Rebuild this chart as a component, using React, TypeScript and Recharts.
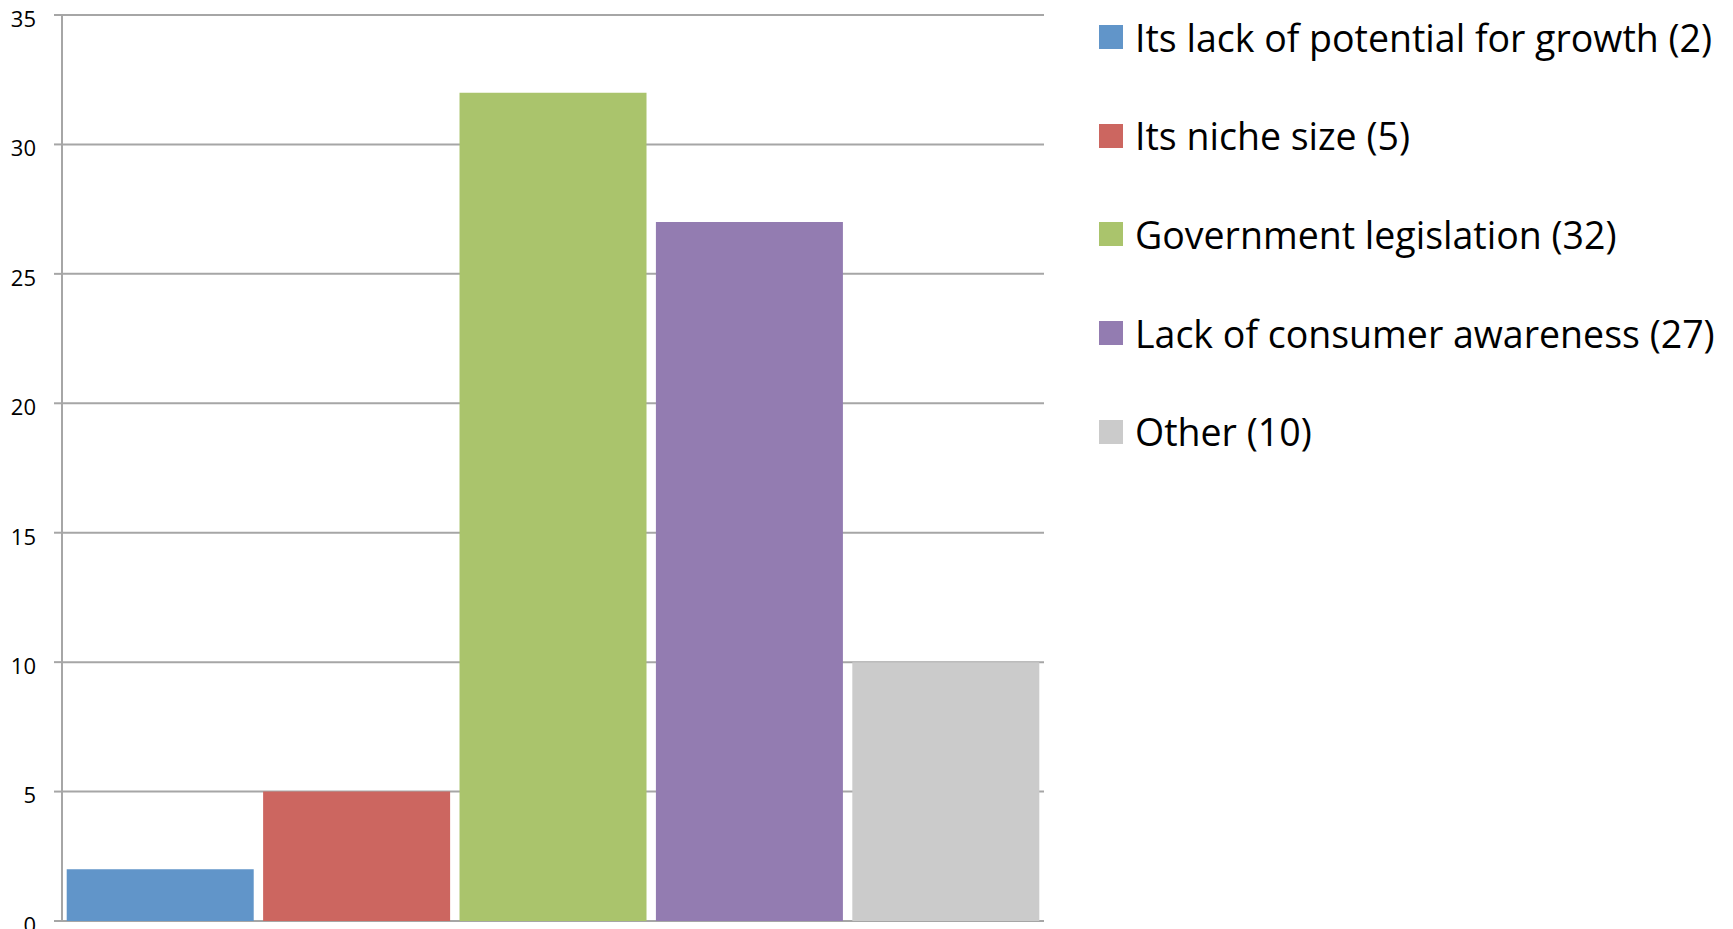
import React from 'react';
import { BarChart, Bar, Cell, XAxis, YAxis, CartesianGrid } from 'recharts';

const categories = [
  'Its lack of potential for growth',
  'Its niche size',
  'Government legislation',
  'Lack of consumer awareness',
  'Other',
];
const counts = [2, 5, 32, 27, 10];
const barColors = ['#6195C9', '#CC6660', '#AAC46C', '#937CB1', '#CBCBCB'];
const yTicks = [0, 5, 10, 15, 20, 25, 30, 35];

const data = categories.map((name, i) => ({ name, value: counts[i] }));

const FONT = '"Open Sans", Lato, sans-serif';
const GRID = '#A6A6A6';

// legend drawn beside the chart, one row per category
const LegendBox = () => (
  <div style={{ position: 'absolute', left: 1099, top: -12, fontFamily: FONT }}>
    {categories.map((name, i) => (
      <div key={name} style={{ display: 'flex', alignItems: 'center', height: 98.6 }}>
        <span style={{ width: 24, height: 24, background: barColors[i], display: 'inline-block', marginRight: 12, flexShrink: 0 }} />
        <span style={{ fontSize: 37.5, color: '#000', whiteSpace: 'nowrap' }}>
          {name} ({counts[i]})
        </span>
      </div>
    ))}
  </div>
);

export default function App() {
  return (
    <div style={{ position: 'absolute', left: 0, top: 0, width: 1733, height: 929, background: '#fff', overflow: 'hidden' }}>
      <BarChart
        width={1733}
        height={929}
        data={data}
        margin={{ top: 15, right: 689, bottom: 8, left: 0 }}
        barCategoryGap="2.4%"
      >
        <CartesianGrid vertical={false} stroke={GRID} strokeWidth={2} />
        <XAxis dataKey="name" hide />
        <YAxis
          width={62}
          domain={[0, 35]}
          ticks={yTicks}
          interval={0}
          axisLine={{ stroke: GRID, strokeWidth: 2 }}
          tickLine={{ stroke: GRID, strokeWidth: 2 }}
          tickSize={8}
          tickMargin={18}
          tick={{ fontSize: 22, fill: '#000', fontFamily: FONT, dy: 4 }}
        />
        <Bar dataKey="value" isAnimationActive={false}>
          {data.map((d, i) => (
            <Cell key={d.name} fill={barColors[i]} />
          ))}
        </Bar>
      </BarChart>
      <LegendBox />
    </div>
  );
}
